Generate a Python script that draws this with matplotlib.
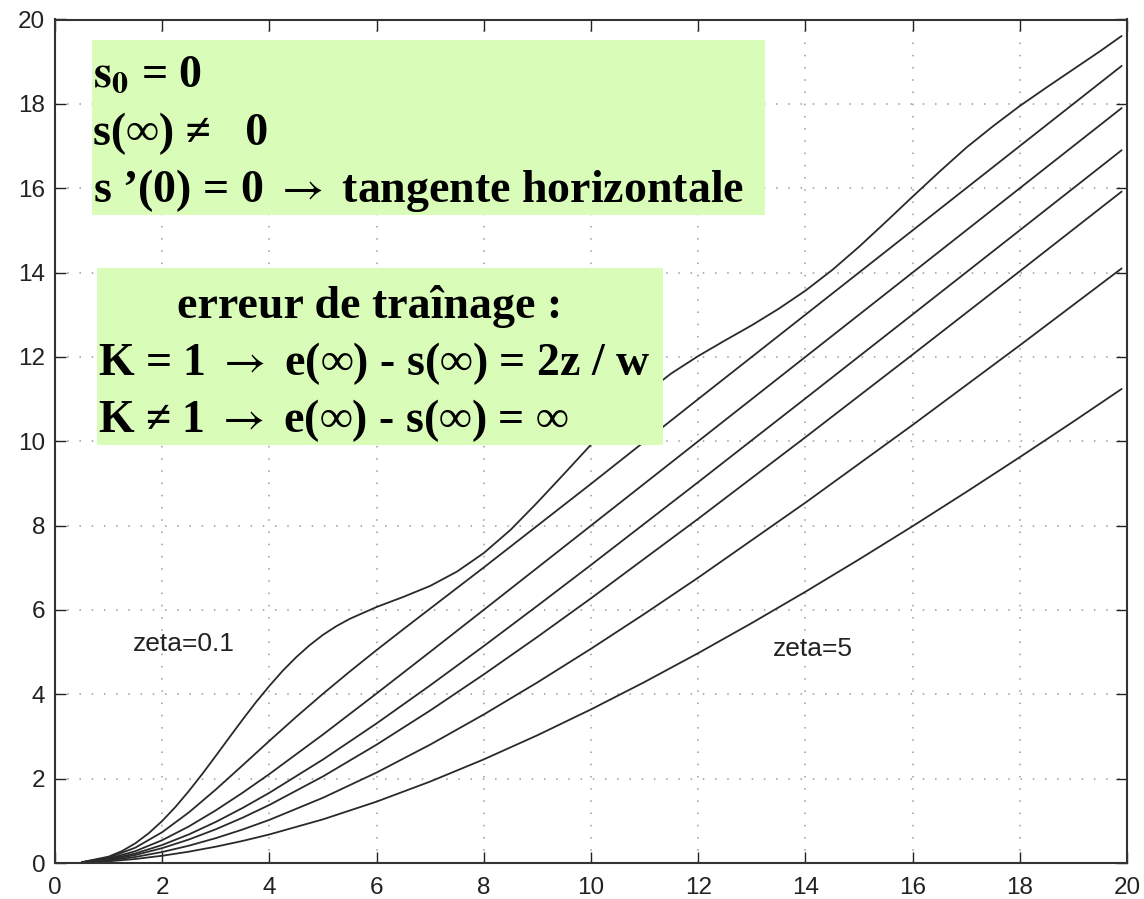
import matplotlib
matplotlib.use("Agg")
import matplotlib.pyplot as plt
from matplotlib.patches import Rectangle

plt.rcParams['mathtext.fontset'] = 'stix'

# ---- data ----
t_z01 = [0.5, 1, 1.25, 1.5, 1.75, 2, 2.25, 2.5, 2.75, 3, 3.25, 3.5, 3.75, 4, 4.25, 4.5,
         4.75, 5, 5.25, 5.5, 6, 6.5, 7, 7.5, 8, 8.5, 9, 9.5, 10,
         10.5, 11, 11.5, 12, 12.5, 13, 13.5, 14, 14.5, 15, 15.5, 16, 16.5, 17, 17.5, 18,
         18.5, 19, 19.5, 19.9]
s_z01 = [0.020, 0.151, 0.283, 0.468, 0.707, 0.997, 1.333, 1.71, 2.115, 2.54, 2.972, 3.40,
         3.814, 4.20, 4.560, 4.88, 5.164, 5.41, 5.616, 5.79, 6.07, 6.31,
         6.57, 6.91, 7.35, 7.90, 8.55, 9.23, 9.92, 10.56, 11.12, 11.61, 12.02, 12.39, 12.75,
         13.14, 13.57, 14.06, 14.61, 15.20, 15.80, 16.39, 16.96, 17.47, 17.95, 18.39, 18.82,
         19.25, 19.61]

t_z05 = [0.5, 1, 1.5, 2, 2.5, 3, 3.5, 4, 4.5, 5, 5.5, 6, 6.5, 7, 8, 10, 12, 14, 16, 18, 19.9]
s_z05 = [0.019, 0.126, 0.364, 0.731, 1.202, 1.742, 2.316, 2.896, 3.465, 4.013, 4.540, 5.049,
         5.544, 6.033, 7.008, 8.99, 11.0, 13.0, 15.0, 17.0, 18.9]

t_z1 = [0.5, 1, 1.5, 2, 2.5, 3, 3.5, 4, 5, 6, 7, 8, 10, 12, 14, 16, 18, 19.9]
s_z1 = [0.016, 0.104, 0.281, 0.541, 0.869, 1.249, 1.666, 2.110, 3.047, 4.020, 5.008, 6.003,
        8.0, 10.0, 12.0, 14.0, 16.0, 17.9]

t_z15 = [0.5, 1, 1.5, 2, 2.5, 3, 3.5, 4, 5, 6, 7, 8, 9, 10, 12, 14, 16, 18, 19.9]
s_z15 = [0.014, 0.087, 0.227, 0.427, 0.679, 0.974, 1.305, 1.665, 2.454, 3.310, 4.212, 5.144,
         6.099, 7.067, 9.031, 11.015, 13.007, 15.003, 16.901]

t_z2 = [0.5, 1, 1.5, 2, 2.5, 3, 3.5, 4, 5, 6, 7, 8, 9, 10, 12, 14, 16, 18, 19.9]
s_z2 = [0.013, 0.075, 0.190, 0.353, 0.558, 0.800, 1.074, 1.377, 2.053, 2.806, 3.616, 4.472,
        5.361, 6.276, 8.162, 10.095, 12.055, 14.032, 15.920]

t_z3 = [0.5, 1, 1.5, 2, 2.5, 3, 3.5, 4, 5, 6, 7, 8, 9, 10, 11, 12, 14, 16, 18, 19.9]
s_z3 = [0.011, 0.059, 0.143, 0.261, 0.411, 0.589, 0.794, 1.023, 1.547, 2.145, 2.807, 3.522,
        4.282, 5.080, 5.910, 6.766, 8.544, 10.386, 12.274, 14.098]

t_z5 = [0.5, 1, 1.5, 2, 2.5, 3, 3.5, 4, 5, 6, 7, 8, 9, 10, 11, 12, 13, 14, 15, 16, 17, 18,
        19, 19.9]
s_z5 = [0.009, 0.040, 0.095, 0.172, 0.269, 0.387, 0.523, 0.677, 1.035, 1.455, 1.931, 2.457,
        3.029, 3.642, 4.292, 4.976, 5.690, 6.431, 7.198, 7.986, 8.796, 9.623, 10.467, 11.240]

curves = [(t_z01, s_z01), (t_z05, s_z05), (t_z1, s_z1), (t_z15, s_z15),
          (t_z2, s_z2), (t_z3, s_z3), (t_z5, s_z5)]

x_ticks = [0, 2, 4, 6, 8, 10, 12, 14, 16, 18, 20]
y_ticks = [0, 2, 4, 6, 8, 10, 12, 14, 16, 18, 20]

label_low = "zeta=0.1"
label_high = "zeta=5"

box1_lines = [r"$\mathbf{s_0}$ = 0", "s(∞) ≠   0",
              r"s ’(0) = 0 $\rightarrow$ tangente horizontale"]
box2_lines = ["erreur de traînage :", r"K = 1 $\rightarrow$ e(∞) - s(∞) = 2z / w",
              r"K ≠ 1 $\rightarrow$ e(∞) - s(∞) = ∞"]

# ---- figure ----
W, H = 1144, 899
fig = plt.figure(figsize=(W / 100, H / 100), dpi=100)
ax = fig.add_axes([55 / W, 1 - 863 / H, (1127 - 55) / W, (863 - 19.5) / H])

for t, s in curves:
    ax.plot(t, s, color='#2a2a2a', lw=1.3, solid_joinstyle='round', solid_capstyle='round')

ax.set_xlim(0, 20)
ax.set_ylim(0, 20)
ax.set_xticks(x_ticks)
ax.set_yticks(y_ticks)
ax.grid(True, color='#9a9a9a', linestyle=(0, (1, 7)), lw=1.1)
ax.tick_params(direction='in', length=8, width=1.0, top=True, right=True,
               labelsize=17.5, colors='#222222', pad=7)
ax.tick_params(axis='x', pad=10)
for lab in ax.get_xticklabels() + ax.get_yticklabels():
    lab.set_fontfamily('Liberation Sans')
for sp in ax.spines.values():
    sp.set_linewidth(1.5)
    sp.set_color('#333333')

ax.text(1.46, 5.2, label_low, fontsize=19, family='Liberation Sans', va='center',
        ha='left', color='#222222')
ax.text(13.39, 5.07, label_high, fontsize=19, family='Liberation Sans', va='center',
        ha='left', color='#222222')

green = '#d9fcb9'


def px(x, y):
    return x / W, 1 - y / H


def add_box(x0, y0, x1, y1):
    fx, fy = px(x0, y1)
    fig.patches.append(Rectangle((fx, fy), (x1 - x0) / W, (y1 - y0) / H,
                                 transform=fig.transFigure, facecolor=green,
                                 edgecolor='none', zorder=5))


add_box(92, 40, 765, 215)
add_box(97, 268, 663, 445)

fs = 33
tkw = dict(fontsize=fs, family='Liberation Serif', weight='bold', color='black',
           va='baseline', zorder=6)
for line, yb in zip(box1_lines, [87, 145, 202]):
    fig.text(*px(93, yb), line, ha='left', **tkw)

fig.text(*px(370, 318), box2_lines[0], ha='center', **tkw)
fig.text(*px(98, 375), box2_lines[1], ha='left', **tkw)
fig.text(*px(98, 432), box2_lines[2], ha='left', **tkw)

fig.savefig('out.png', dpi=100)
